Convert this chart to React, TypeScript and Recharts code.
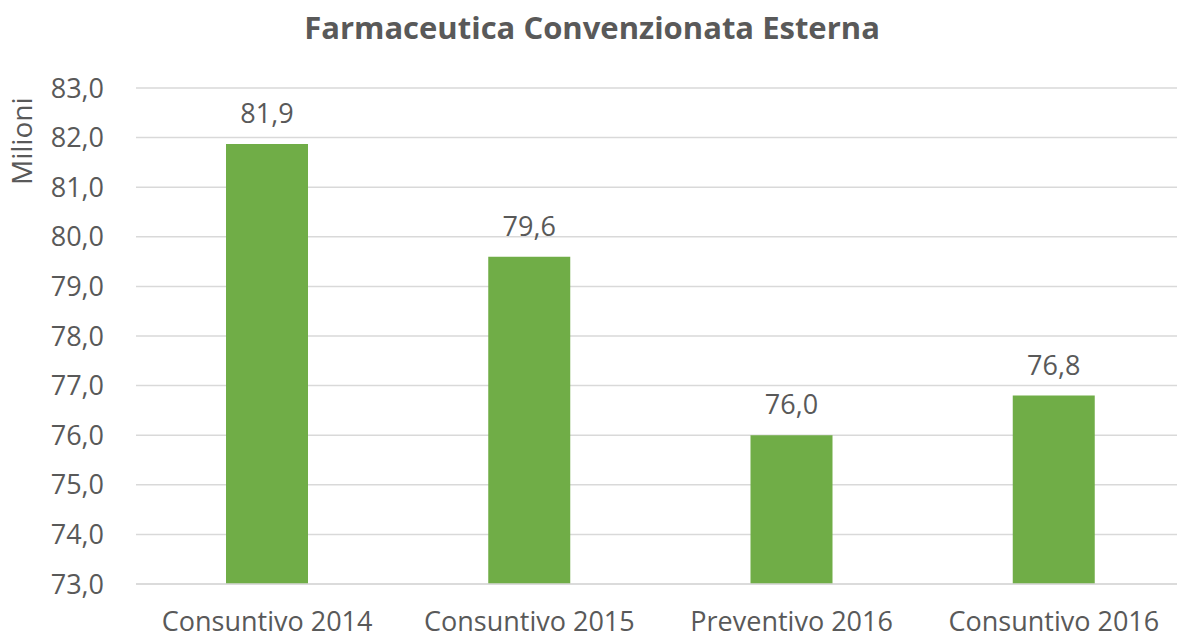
import React from 'react';
import { BarChart, Bar, XAxis, YAxis, CartesianGrid, LabelList, Label } from 'recharts';

const categories = ['Consuntivo 2014', 'Consuntivo 2015', 'Preventivo 2016', 'Consuntivo 2016'];
const values = [81.87, 79.6, 76.0, 76.8];
const yTicks = [73, 74, 75, 76, 77, 78, 79, 80, 81, 82, 83];

const data = categories.map((c, i) => ({ name: c, value: values[i] }));

const fmt = (v: number) => v.toFixed(1).replace('.', ',');
const FONT = '"Open Sans", sans-serif';
const TXT = '#595959';

export default function App() {
  return (
    <div style={{ position: 'absolute', left: 0, top: 0, width: 1177, height: 639, overflow: 'hidden', background: '#fff', fontFamily: FONT }}>
      <div style={{ position: 'absolute', left: 0, width: 1184, top: 6, textAlign: 'center', fontSize: 31, fontWeight: 700, color: TXT, fontFamily: FONT, whiteSpace: 'nowrap' }}>
        Farmaceutica Convenzionata Esterna
      </div>
      <div style={{ position: 'absolute', left: 0, top: 0 }}>
        <BarChart width={1185} height={639} data={data} margin={{ top: 88, right: 0, bottom: 0, left: 0 }}>
          <CartesianGrid vertical={false} stroke="#d9d9d9" strokeWidth={1.5} />
          <XAxis dataKey="name" height={55} tickLine={false} axisLine={{ stroke: '#d9d9d9', strokeWidth: 1.5 }} tickSize={0} tickMargin={28}
            tick={{ fill: TXT, fontSize: 27, fontFamily: FONT }} interval={0} />
          <YAxis width={136} domain={[73, 83]} ticks={yTicks} tickFormatter={fmt} axisLine={false} tickLine={false} tickSize={0} tickMargin={32}
            tick={{ fill: TXT, fontSize: 27, fontFamily: FONT }}>
            <Label value="Milioni" angle={-90} position="insideLeft" dx={17} dy={-151} fill={TXT} fontSize={28} fontFamily={FONT} />
          </YAxis>
          <Bar dataKey="value" fill="#70ad47" barSize={82} isAnimationActive={false}>
            <LabelList dataKey="value" position="top" offset={21} formatter={(v: any) => fmt(Number(v))} fill={TXT} fontSize={27} fontFamily={FONT} />
          </Bar>
        </BarChart>
      </div>
    </div>
  );
}
